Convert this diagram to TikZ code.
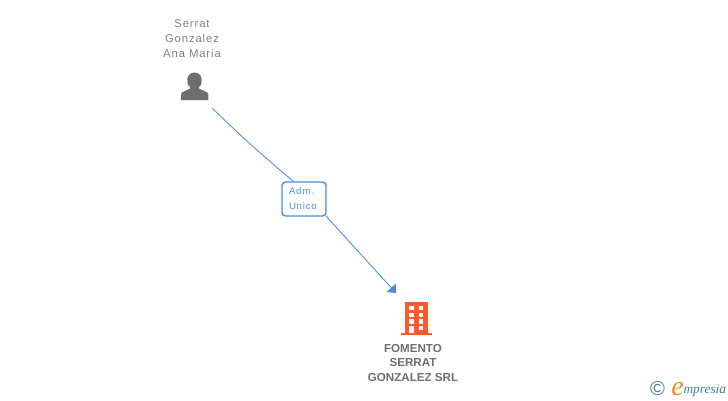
\documentclass[tikz,border=0pt]{standalone}
\usepackage{fontspec}
\usepackage{xcolor}
\setmainfont{Liberation Sans}
\newfontfamily\spacedfont[LetterSpace=8]{Liberation Sans}
\newfontfamily\logofont{Liberation Serif}
\usetikzlibrary{arrows.meta,positioning}

\definecolor{linkblue}{HTML}{4A8CE4}
\definecolor{namegray}{HTML}{7F7F7F}
\definecolor{icongray}{HTML}{6E6E6E}
\definecolor{firmorange}{HTML}{FF5A2E}
\definecolor{logoblue}{HTML}{3F7F95}
\definecolor{logoorange}{HTML}{F08A24}

\tikzset{
  iconbox/.style={inner sep=0pt, outer sep=0pt},
  personname/.style={align=center, text=namegray, font=\fontsize{6.4}{8.5}\selectfont\spacedfont},
  firmname/.style={align=center, text=icongray, font=\fontsize{6.6}{8.5}\selectfont\bfseries},
  rolebox/.style={draw=linkblue, line width=0.8pt, rounded corners=2pt, fill=white, inner sep=0pt, outer sep=0pt,
     text=linkblue, align=left, font=\fontsize{5.5}{8.5}\selectfont\spacedfont},
  link/.style={draw=linkblue, line width=0.5pt},
  window/.style={fill=white}
}

\begin{document}
\begin{tikzpicture}[x=0.02cm,y=-0.02cm]

\useasboundingbox (0,0) rectangle (728,400);

\node[personname] (namelabel) at (192,38.5) {Serrat\\Gonzalez\\Ana Maria};
\node[iconbox, minimum width=0.72cm, minimum height=0.84cm] (person) at (194,87) {};

\node[rolebox, minimum width=0.88cm, minimum height=0.68cm, text width=0.6cm] (adm) at (304,199) {Adm.\\Unico};

\node[iconbox, minimum width=0.8cm, minimum height=1.04cm] (firm) at (416,319) {};
\node[firmname] (firmlabel) at (413,363) {FOMENTO\\SERRAT\\GONZALEZ SRL};

%person icon
\fill[icongray] (181,100) -- (181,94.5) .. controls (181,91.5) and (186,91) .. (190,88.5)
  -- (190,87) .. controls (185.5,84) and (186,72.5) .. (194.5,72.5)
  .. controls (203,72.5) and (203.5,84) .. (199,87) -- (199,88.5)
  .. controls (203,91) and (208.3,91.5) .. (208.3,94.5) -- (208.3,100) -- cycle;

%firm icon
\fill[firmorange] (405,302) rectangle (427.7,333);
\fill[firmorange] (400.7,333) rectangle (431.7,335);
\foreach \y in {305.7,312.5,319.3}
  \foreach \x in {409,418.5}
    \fill[window] (\x,\y) rectangle (\x+4.8,\y+4.5);
\fill[window] (409,326) rectangle (413.8,333);
\fill[window] (418.5,326) rectangle (423.3,330);

%links
\draw[link] (person.south east) to[bend right=2] (adm.120);
\draw[link, -{Triangle[length=4pt,width=7pt]}] (adm.south east) -- (firm.north west);

%logo
\node[text=logoblue, font=\fontsize{11.5}{11.5}\selectfont, inner sep=0pt] (copyr) at (657.5,388.5) {©};
\node[text=logoorange, font=\fontsize{16}{16}\selectfont\logofont\itshape, inner sep=0pt] (logoe) at (677.5,389) {e};
\node[text=logoblue, font=\fontsize{7.6}{7.6}\selectfont\logofont\itshape, inner sep=0pt, right=-0.5pt of logoe.east, yshift=-1pt] (logotext) {mpresia};

\end{tikzpicture}
\end{document}
